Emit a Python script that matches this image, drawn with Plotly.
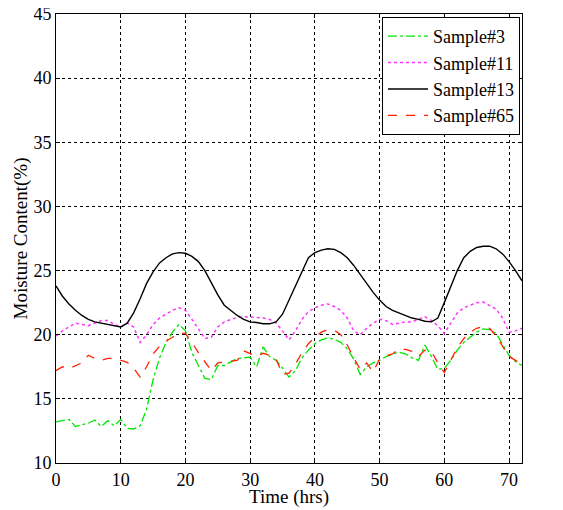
import plotly.graph_objects as go

hours = list(range(0, 73))

sample3 = [13.2, 13.3, 13.4, 12.85, 13.0, 13.1, 13.35, 12.85, 13.3, 12.9,
           13.4, 12.7, 12.65, 12.9, 14.2, 16.5, 18.2, 19.4, 20.2, 20.8,
           20.3, 18.6, 17.6, 16.6, 16.5, 17.6, 17.6, 17.9, 18.15, 18.2,
           18.25, 17.5, 19.05, 18.3, 18.0, 17.4, 16.7, 17.2, 18.2, 18.8,
           19.3, 19.6, 19.75, 19.65, 19.4, 18.9, 18.1, 16.9, 17.5, 17.8,
           18.0, 18.3, 18.5, 18.65, 18.5, 18.2, 18.0, 19.2, 18.3, 17.3,
           17.4, 18.0, 18.8, 19.4, 19.8, 20.2, 20.45, 20.4, 20.1, 19.3,
           18.4, 17.9, 17.6]

sample11 = [19.9, 20.3, 20.6, 20.9, 20.8, 20.7, 20.9, 21.1, 21.1, 20.8,
            20.6, 20.9, 20.6, 19.4, 20.0, 20.8, 21.3, 21.6, 21.9, 22.1,
            21.9, 21.2, 20.4, 19.7, 19.8, 20.6, 21.0, 21.2, 21.35, 21.4,
            21.4, 21.35, 21.3, 21.2, 20.9, 20.3, 19.6, 20.3, 21.2, 21.8,
            22.1, 22.3, 22.4, 22.2, 21.9, 21.3, 20.3, 20.0, 20.5, 20.9,
            21.2, 21.1, 20.8, 20.9, 21.0, 21.0, 21.2, 21.4, 21.1, 20.7,
            20.1, 20.9, 21.7, 22.1, 22.3, 22.5, 22.55, 22.3, 22.0, 21.3,
            20.2, 20.3, 20.5]

sample13 = [23.8, 23.0, 22.4, 21.9, 21.5, 21.2, 21.0, 20.9, 20.8, 20.75,
            20.6, 20.9, 21.7, 22.8, 24.0, 24.9, 25.6, 26.0, 26.3, 26.4,
            26.35, 26.1, 25.7, 25.0, 24.0, 23.1, 22.3, 21.9, 21.5, 21.2,
            21.0, 20.95, 20.85, 20.85, 21.0, 21.6, 22.7, 23.8, 25.0, 26.0,
            26.4, 26.6, 26.7, 26.65, 26.4, 26.0, 25.4, 24.7, 24.0, 23.3,
            22.7, 22.2, 21.9, 21.7, 21.5, 21.3, 21.2, 21.05, 21.0, 21.3,
            22.5, 23.8, 25.0, 26.0, 26.5, 26.8, 26.9, 26.9, 26.7, 26.3,
            25.7, 25.0, 24.2]

sample65 = [17.2, 17.5, 17.35, 17.6, 17.8, 18.4, 18.15, 18.0, 18.15, 18.15,
            18.0, 17.85, 17.4, 16.7, 17.5, 18.5, 19.1, 19.5, 19.8, 20.1,
            20.1, 19.4, 18.6, 17.9, 17.2, 17.8, 17.85, 17.9, 18.0, 18.75,
            18.5, 18.3, 18.55, 18.4, 18.1, 16.9, 17.0, 17.7, 18.6, 19.3,
            19.8, 20.2, 20.4, 20.35, 20.0, 19.2, 18.2, 17.3, 17.8, 17.1,
            18.1, 18.35, 18.5, 18.9, 18.85, 18.7, 18.3, 18.8, 18.7, 17.8,
            17.05, 18.0, 19.0, 19.7, 20.2, 20.5, 20.65, 20.5, 19.9, 19.1,
            18.3, 18.0, 17.7]

series_names = ["Sample#3", "Sample#11", "Sample#13", "Sample#65"]
x_ticks = [0, 10, 20, 30, 40, 50, 60, 70]
y_ticks = [10, 15, 20, 25, 30, 35, 40, 45]
x_title = "Time (hrs)"
y_title = "Moisture Content(%)"

FONT = "Liberation Serif"

styles = [
    dict(color="#00E600", dash="dashdot", width=1.3),
    dict(color="#FF33FF", dash="dot", width=1.5),
    dict(color="#000000", dash="solid", width=1.4),
    dict(color="#FF2200", dash="dash", width=1.3),
]

fig = go.Figure()
for name, ys, st in zip(series_names, [sample3, sample11, sample13, sample65], styles):
    fig.add_trace(go.Scatter(x=hours, y=ys, mode="lines", name=name, line=st))

axis_common = dict(
    showline=True, linecolor="black", linewidth=1, mirror="ticks",
    ticks="inside", ticklen=4, tickcolor="black",
    showgrid=True, gridcolor="black", gridwidth=1, griddash="dot",
    zeroline=False, automargin=False, ticklabeloverflow="allow",
    tickfont=dict(family=FONT, size=18, color="black"),
)

fig.update_xaxes(range=[0, 72], tickvals=x_ticks, **axis_common)
fig.update_yaxes(range=[10, 45], tickvals=y_ticks, **axis_common)

fig.add_annotation(text=x_title, xref="paper", yref="paper", x=0.5, y=0,
                   xanchor="center", yanchor="middle", yshift=-34, showarrow=False,
                   font=dict(family=FONT, size=19, color="black"))
fig.add_annotation(text=y_title, xref="paper", yref="paper", x=0, y=0.5,
                   xanchor="center", yanchor="middle", xshift=-36, textangle=-90,
                   showarrow=False, font=dict(family=FONT, size=19, color="black"))

# the page body adds an 8px margin, so the figure is offset inside the window
fig.update_layout(
    width=547, height=502,
    margin=dict(l=48, r=33, t=6, b=47),
    paper_bgcolor="white", plot_bgcolor="white",
    showlegend=True,
    font=dict(family=FONT),
    legend=dict(
        x=0.9957, y=0.9933, xanchor="right", yanchor="top",
        bgcolor="white", bordercolor="black", borderwidth=1,
        font=dict(family=FONT, size=18, color="black"),
        tracegroupgap=0, itemwidth=40,
    ),
)

fig.write_html("out.html")
